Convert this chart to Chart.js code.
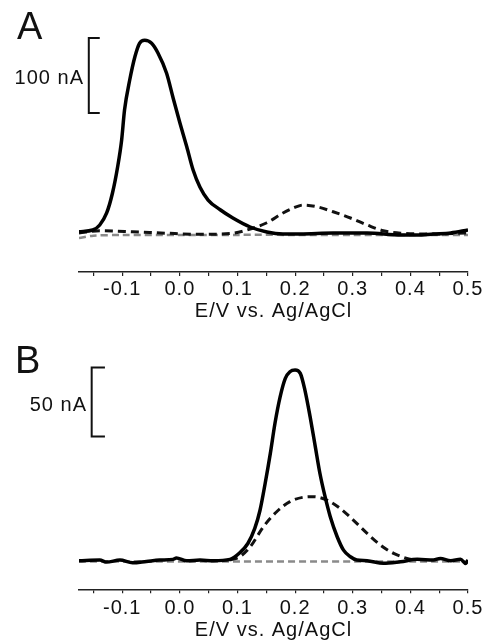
<!DOCTYPE html>
<html>
<head>
<meta charset="utf-8">
<script src="https://cdn.jsdelivr.net/npm/chart.js@4.4.1/dist/chart.umd.min.js"></script>
<style>
  html, body { margin: 0; padding: 0; background: #fff; }
  #wrap { position: relative; width: 487px; height: 644px; overflow: hidden; font-family: "Liberation Sans", Arial, sans-serif; color: #111; }
  canvas { position: absolute; left: 0; }
  #chartA { top: 0; }
  #chartB { top: 324px; }
  .panel { position: absolute; font-size: 38px; line-height: 38px; }
  .unit { position: absolute; font-size: 20px; line-height: 20px; letter-spacing: 1px; text-align: right; }
</style>
</head>
<body>
<div id="wrap">
  <canvas id="chartA" width="487" height="324"></canvas>
  <canvas id="chartB" width="487" height="320"></canvas>
  <div class="panel" style="left:17px; top:7px;">A</div>
  <div class="panel" style="left:15px; top:341px;">B</div>
  <div class="unit" style="right:403px; top:67px;">100 nA</div>
  <div class="unit" style="right:400px; top:394px;">50 nA</div>
</div>
<script>
// x axis ticks (V), labelled every 0.1
const TICKS = [-0.15, -0.1, -0.05, 0.0, 0.05, 0.1, 0.15, 0.2, 0.25, 0.3, 0.35, 0.4, 0.45, 0.5];

// panel A (nA)
const EA_SOLID = [-0.175, -0.151, -0.139, -0.127, -0.117, -0.108, -0.101, -0.096, -0.087, -0.078, -0.070, -0.061, -0.049, -0.038, -0.023, -0.012, 0.000, 0.012, 0.023, 0.035, 0.049, 0.070, 0.092, 0.122, 0.151, 0.179, 0.209, 0.266, 0.325, 0.383, 0.412, 0.440, 0.470, 0.500];
const IA_SOLID = [1.7, 4, 10.7, 26.7, 53, 88, 124, 164, 204, 235, 253, 257, 253, 240, 213, 181, 147, 115, 84, 61, 44, 31, 20, 8, 1.3, -1.3, -1.3, 0, 0, -2.7, -2.7, -1.3, 0, 4];
const EA_DASH = [-0.175, -0.139, -0.082, -0.023, 0.035, 0.092, 0.122, 0.151, 0.179, 0.197, 0.214, 0.238, 0.266, 0.296, 0.325, 0.353, 0.383, 0.440, 0.500];
const IA_DASH = [0, 3, 1.7, -0.3, -1.7, -0.3, 5.3, 13.7, 26.7, 33.3, 37.3, 35, 28.3, 20, 10.7, 3, -0.3, -1.3, 0];
const EA_GREY = [-0.175, -0.15, -0.1, 0.0, 0.1, 0.2, 0.3, 0.4, 0.5];
const IA_GREY = [-6.7, -3.5, -2.7, -2.7, -2.5, -2.5, -2.5, -2.5, -2.5];
const BAR_A_E = [-0.139, -0.158, -0.158, -0.139];
const BAR_A_I = [260, 260, 160, 160];

// panel B (nA)
const EB_SOLID = [-0.175, -0.139, -0.127, -0.104, -0.082, -0.058, -0.035, -0.012, -0.006, 0.012, 0.035, 0.058, 0.087, 0.104, 0.118, 0.130, 0.139, 0.148, 0.157, 0.165, 0.174, 0.183, 0.191, 0.200, 0.209, 0.217, 0.226, 0.235, 0.243, 0.252, 0.261, 0.273, 0.284, 0.296, 0.307, 0.325, 0.353, 0.383, 0.412, 0.440, 0.452, 0.470, 0.487, 0.496, 0.500];
const IB_SOLID = [0, 0.5, -1, 0.5, -1.5, -0.5, 0.5, 1, 2, 0, 0.5, 0, 1, 5.8, 12.5, 23.4, 36.4, 56, 77.8, 99.5, 118.8, 132.2, 137, 138.2, 135.8, 123.7, 104.4, 82.7, 63.4, 46.4, 31.9, 17.4, 7.7, 2.9, 0.5, 0, -1.9, -0.7, 1, 0.5, 1.7, 0, 1, -2, 0.5];
const EB_DASH = [0.087, 0.104, 0.122, 0.145, 0.168, 0.191, 0.214, 0.232, 0.255, 0.278, 0.301, 0.325, 0.348, 0.371, 0.394, 0.406];
const IB_DASH = [0.5, 2.9, 10, 24.6, 35.5, 42.8, 46, 46.4, 44, 38, 29.5, 19.8, 11.4, 5.3, 1.7, 0.5];
const EB_GREY = [-0.175, 0.5];
const IB_GREY = [-0.6, -0.6];
const BAR_B_E = [-0.130, -0.153, -0.153, -0.130];
const BAR_B_I = [140, 140, 90, 90];

Chart.defaults.font.family = '"Liberation Sans", Arial, sans-serif';
Chart.defaults.color = '#111';

const pts = (xs, ys) => xs.map((x, i) => ({ x, y: ys[i] }));

// canvas text a bit wider, like the scanned figure
const spacing = {
  id: 'spacing',
  beforeUpdate(c) { c.ctx.letterSpacing = '1px'; },
  beforeDraw(c) { c.ctx.letterSpacing = '1px'; }
};

function makePanel(id, p) {
  return new Chart(document.getElementById(id), {
    type: 'scatter',
    plugins: [spacing],
    data: {
      datasets: [
        { data: pts(p.es, p.is), showLine: true, borderColor: '#000', borderWidth: 3.5,
          cubicInterpolationMode: 'monotone', pointRadius: 0 },
        { data: pts(p.ed, p.id), showLine: true, borderColor: '#111', borderWidth: 3,
          borderDash: [8, 5], cubicInterpolationMode: 'monotone', pointRadius: 0 },
        { data: pts(p.eg, p.ig), showLine: true, borderColor: '#8a8a8a', borderWidth: 2.5,
          borderDash: [7, 4], tension: 0.3, pointRadius: 0 },
        { data: pts(p.be, p.bi), showLine: true, borderColor: '#111', borderWidth: 2,
          tension: 0, pointRadius: 0 }
      ]
    },
    options: {
      responsive: false,
      animation: false,
      layout: { padding: { left: 79, right: 19, top: p.top, bottom: 0 } },
      plugins: { legend: { display: false }, tooltip: { enabled: false } },
      scales: {
        x: {
          type: 'linear', min: -0.175, max: 0.5,
          afterBuildTicks: s => { s.ticks = TICKS.map(v => ({ value: v })); },
          afterFit: s => { s.height = p.axisH; },
          grid: { drawOnChartArea: false, drawTicks: true, tickLength: 4, color: '#222', lineWidth: 1.2 },
          border: { display: true, color: '#222', width: 1.5 },
          ticks: {
            autoSkip: false, maxRotation: 0, padding: p.tickPad,
            font: { size: 20 }, color: '#111',
            callback: v => Math.abs(Math.round(v * 100) % 10) === 0 ? v.toFixed(1) : ''
          },
          title: { display: true, text: 'E/V vs. Ag/AgCl', font: { size: 20 }, color: '#111',
                   padding: { top: 0, bottom: p.titlePad } }
        },
        y: { display: false, min: p.ymin, max: p.ymax }
      }
    }
  });
}

makePanel('chartA', {
  es: EA_SOLID, is: IA_SOLID, ed: EA_DASH, id: IA_DASH, eg: EA_GREY, ig: IA_GREY,
  be: BAR_A_E, bi: BAR_A_I, top: 30, axisH: 52, tickPad: 1.5, titlePad: 1, ymin: -52, ymax: 270.7
});
makePanel('chartB', {
  es: EB_SOLID, is: IB_SOLID, ed: EB_DASH, id: IB_DASH, eg: EB_GREY, ig: IB_GREY,
  be: BAR_B_E, bi: BAR_B_I, top: 31, axisH: 54.7, tickPad: 3, titlePad: 2, ymin: -20.7, ymax: 149.1
});
</script>
</body>
</html>
